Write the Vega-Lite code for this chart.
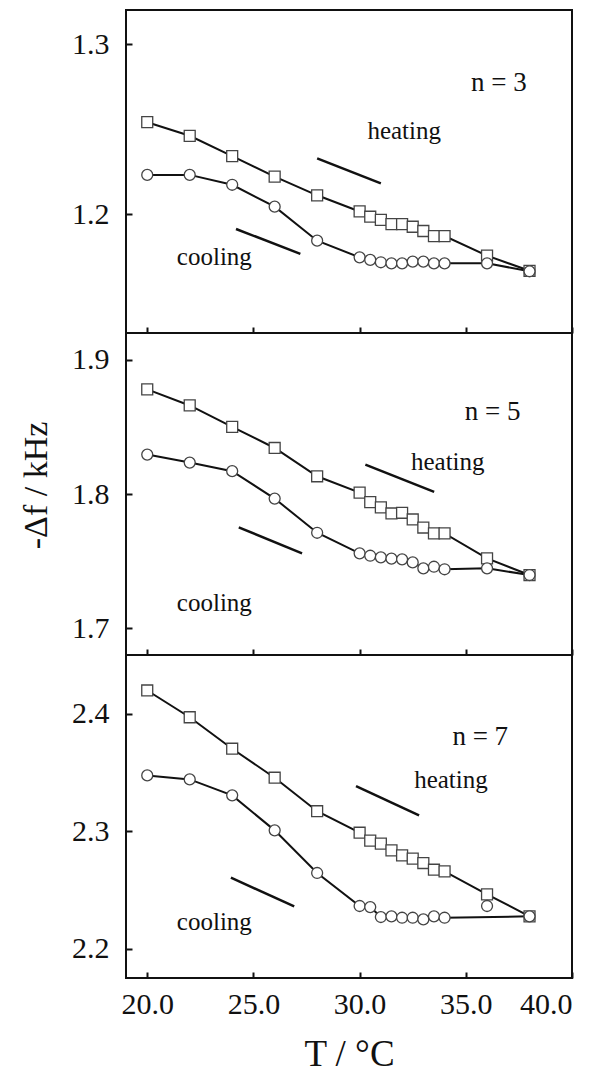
{
  "$schema": "https://vega.github.io/schema/vega-lite/v6.json",
  "background": "white",
  "padding": {"left": 18, "top": 9, "right": 0, "bottom": 0},
  "spacing": 0,
  "bounds": "flush",
  "config": {
    "view": {"stroke": "#111", "strokeWidth": 2},
    "font": "Liberation Serif, Times New Roman, Times, DejaVu Serif, serif",
    "axis": {
      "domain": false, "grid": false, "tickColor": "#111", "tickWidth": 2, "tickSize": -6,
      "labelFont": "Liberation Serif, Times New Roman, Times, DejaVu Serif, serif", "labelFontSize": 30, "labelColor": "#111",
      "titleFont": "Liberation Serif, Times New Roman, Times, DejaVu Serif, serif", "titleFontWeight": "normal", "titleColor": "#111"
    },
    "text": {"font": "Liberation Serif, Times New Roman, Times, DejaVu Serif, serif"},
    "concat": {"spacing": 0}
  },
  "datasets": {
    "obs": [
      {"n": 3, "s": "heating", "T": 20, "f": 1.254}, {"n": 3, "s": "heating", "T": 22, "f": 1.246}, {"n": 3, "s": "heating", "T": 24, "f": 1.234}, {"n": 3, "s": "heating", "T": 26, "f": 1.222}, {"n": 3, "s": "heating", "T": 28, "f": 1.211}, {"n": 3, "s": "heating", "T": 30, "f": 1.2015}, {"n": 3, "s": "heating", "T": 30.5, "f": 1.1984}, {"n": 3, "s": "heating", "T": 31, "f": 1.1965}, {"n": 3, "s": "heating", "T": 31.5, "f": 1.194}, {"n": 3, "s": "heating", "T": 32, "f": 1.194}, {"n": 3, "s": "heating", "T": 32.5, "f": 1.1925}, {"n": 3, "s": "heating", "T": 33, "f": 1.19}, {"n": 3, "s": "heating", "T": 33.5, "f": 1.187}, {"n": 3, "s": "heating", "T": 34, "f": 1.187}, {"n": 3, "s": "heating", "T": 36, "f": 1.1755}, {"n": 3, "s": "heating", "T": 38, "f": 1.1666},
      {"n": 3, "s": "cooling", "T": 20, "f": 1.223}, {"n": 3, "s": "cooling", "T": 22, "f": 1.223}, {"n": 3, "s": "cooling", "T": 24, "f": 1.2172}, {"n": 3, "s": "cooling", "T": 26, "f": 1.2043}, {"n": 3, "s": "cooling", "T": 28, "f": 1.1843}, {"n": 3, "s": "cooling", "T": 30, "f": 1.1745}, {"n": 3, "s": "cooling", "T": 30.5, "f": 1.173}, {"n": 3, "s": "cooling", "T": 31, "f": 1.1716}, {"n": 3, "s": "cooling", "T": 31.5, "f": 1.171}, {"n": 3, "s": "cooling", "T": 32, "f": 1.171}, {"n": 3, "s": "cooling", "T": 32.5, "f": 1.172}, {"n": 3, "s": "cooling", "T": 33, "f": 1.172}, {"n": 3, "s": "cooling", "T": 33.5, "f": 1.171}, {"n": 3, "s": "cooling", "T": 34, "f": 1.171}, {"n": 3, "s": "cooling", "T": 36, "f": 1.171}, {"n": 3, "s": "cooling", "T": 38, "f": 1.1663},
      {"n": 5, "s": "heating", "T": 20, "f": 1.878}, {"n": 5, "s": "heating", "T": 22, "f": 1.866}, {"n": 5, "s": "heating", "T": 24, "f": 1.85}, {"n": 5, "s": "heating", "T": 26, "f": 1.8343}, {"n": 5, "s": "heating", "T": 28, "f": 1.8132}, {"n": 5, "s": "heating", "T": 30, "f": 1.801}, {"n": 5, "s": "heating", "T": 30.5, "f": 1.794}, {"n": 5, "s": "heating", "T": 31, "f": 1.79}, {"n": 5, "s": "heating", "T": 31.5, "f": 1.7855}, {"n": 5, "s": "heating", "T": 32, "f": 1.786}, {"n": 5, "s": "heating", "T": 32.5, "f": 1.781}, {"n": 5, "s": "heating", "T": 33, "f": 1.775}, {"n": 5, "s": "heating", "T": 33.5, "f": 1.7706}, {"n": 5, "s": "heating", "T": 34, "f": 1.7706}, {"n": 5, "s": "heating", "T": 36, "f": 1.752}, {"n": 5, "s": "heating", "T": 38, "f": 1.7396},
      {"n": 5, "s": "cooling", "T": 20, "f": 1.8294}, {"n": 5, "s": "cooling", "T": 22, "f": 1.8234}, {"n": 5, "s": "cooling", "T": 24, "f": 1.817}, {"n": 5, "s": "cooling", "T": 26, "f": 1.7966}, {"n": 5, "s": "cooling", "T": 28, "f": 1.7711}, {"n": 5, "s": "cooling", "T": 30, "f": 1.7558}, {"n": 5, "s": "cooling", "T": 30.5, "f": 1.754}, {"n": 5, "s": "cooling", "T": 31, "f": 1.7528}, {"n": 5, "s": "cooling", "T": 31.5, "f": 1.7518}, {"n": 5, "s": "cooling", "T": 32, "f": 1.7513}, {"n": 5, "s": "cooling", "T": 32.5, "f": 1.749}, {"n": 5, "s": "cooling", "T": 33, "f": 1.7446}, {"n": 5, "s": "cooling", "T": 33.5, "f": 1.7458}, {"n": 5, "s": "cooling", "T": 34, "f": 1.7439}, {"n": 5, "s": "cooling", "T": 36, "f": 1.7446}, {"n": 5, "s": "cooling", "T": 38, "f": 1.7396},
      {"n": 7, "s": "heating", "T": 20, "f": 2.4198}, {"n": 7, "s": "heating", "T": 22, "f": 2.397}, {"n": 7, "s": "heating", "T": 24, "f": 2.3702}, {"n": 7, "s": "heating", "T": 26, "f": 2.3455}, {"n": 7, "s": "heating", "T": 28, "f": 2.317}, {"n": 7, "s": "heating", "T": 30, "f": 2.2987}, {"n": 7, "s": "heating", "T": 30.5, "f": 2.292}, {"n": 7, "s": "heating", "T": 31, "f": 2.2894}, {"n": 7, "s": "heating", "T": 31.5, "f": 2.2837}, {"n": 7, "s": "heating", "T": 32, "f": 2.2794}, {"n": 7, "s": "heating", "T": 32.5, "f": 2.2766}, {"n": 7, "s": "heating", "T": 33, "f": 2.2729}, {"n": 7, "s": "heating", "T": 33.5, "f": 2.2672}, {"n": 7, "s": "heating", "T": 34, "f": 2.2658}, {"n": 7, "s": "heating", "T": 36, "f": 2.2462}, {"n": 7, "s": "heating", "T": 38, "f": 2.2275},
      {"n": 7, "s": "cooling", "T": 20, "f": 2.3475}, {"n": 7, "s": "cooling", "T": 22, "f": 2.3441}, {"n": 7, "s": "cooling", "T": 24, "f": 2.3305}, {"n": 7, "s": "cooling", "T": 26, "f": 2.3007}, {"n": 7, "s": "cooling", "T": 28, "f": 2.2644}, {"n": 7, "s": "cooling", "T": 30, "f": 2.2363}, {"n": 7, "s": "cooling", "T": 30.5, "f": 2.2354}, {"n": 7, "s": "cooling", "T": 31, "f": 2.2269}, {"n": 7, "s": "cooling", "T": 31.5, "f": 2.2275}, {"n": 7, "s": "cooling", "T": 32, "f": 2.2263}, {"n": 7, "s": "cooling", "T": 32.5, "f": 2.2263}, {"n": 7, "s": "cooling", "T": 33, "f": 2.2249}, {"n": 7, "s": "cooling", "T": 33.5, "f": 2.2275}, {"n": 7, "s": "cooling", "T": 34, "f": 2.2263}, {"n": 7, "s": "cooling", "T": 36, "f": 2.2363}, {"n": 7, "s": "cooling", "T": 38, "f": 2.2275}
    ],
    "arrows": [
      {"n": 3, "T": 28.0, "f": 1.2327, "T2": 31.0, "f2": 1.218},
      {"n": 3, "T": 27.21, "f": 1.1765, "T2": 24.18, "f2": 1.1912},
      {"n": 5, "T": 30.27, "f": 1.8219, "T2": 33.51, "f2": 1.8016},
      {"n": 5, "T": 27.29, "f": 1.7558, "T2": 24.31, "f2": 1.7751},
      {"n": 7, "T": 29.83, "f": 2.3384, "T2": 32.8, "f2": 2.3134},
      {"n": 7, "T": 26.92, "f": 2.236, "T2": 23.94, "f2": 2.2604}
    ],
    "labels": [
      {"n": 3, "kind": "n", "text": "n = 3", "T": 36.56, "f": 1.277},
      {"n": 3, "kind": "dir", "text": "heating", "T": 32.1, "f": 1.249},
      {"n": 3, "kind": "dir", "text": "cooling", "T": 23.16, "f": 1.1745},
      {"n": 5, "kind": "n", "text": "n = 5", "T": 36.26, "f": 1.861},
      {"n": 5, "kind": "dir", "text": "heating", "T": 34.15, "f": 1.8239},
      {"n": 5, "kind": "dir", "text": "cooling", "T": 23.16, "f": 1.7186},
      {"n": 7, "kind": "n", "text": "n = 7", "T": 35.68, "f": 2.38},
      {"n": 7, "kind": "dir", "text": "heating", "T": 34.3, "f": 2.3432},
      {"n": 7, "kind": "dir", "text": "cooling", "T": 23.16, "f": 2.2226}
    ]
  },
  "vconcat": [
    {
      "width": 446, "height": 323,
      "encoding": {
        "x": {"field": "T", "type": "quantitative", "scale": {"domain": [19, 40], "nice": false, "zero": false}, "axis": {"values": [20, 25, 30, 35, 40], "labels": false, "title": null}},
        "y": {"field": "f", "type": "quantitative", "scale": {"domain": [1.13, 1.32], "nice": false, "zero": false}, "axis": {"values": [1.2, 1.3], "format": ".1f", "title": null, "labelPadding": 23}}
      },
      "layer": [
        {"data": {"name": "obs"}, "transform": [{"filter": "datum.n == 3"}], "mark": {"type": "line", "color": "#111", "strokeWidth": 2}, "encoding": {"detail": {"field": "s"}}},
        {"data": {"name": "arrows"}, "transform": [{"filter": "datum.n == 3"}], "mark": {"type": "rule", "color": "#111", "strokeWidth": 2.5}, "encoding": {"x2": {"field": "T2"}, "y2": {"field": "f2"}}},
        {"data": {"name": "obs"}, "transform": [{"filter": "datum.n == 3"}], "mark": {"type": "point", "filled": true, "fill": "white", "stroke": "#444", "strokeWidth": 1.3, "size": 120, "opacity": 1}, "encoding": {"shape": {"field": "s", "type": "nominal", "scale": {"domain": ["heating", "cooling"], "range": ["square", "circle"]}, "legend": null}}},
        {"data": {"name": "labels"}, "transform": [{"filter": "datum.n == 3 && datum.kind == 'n'"}], "mark": {"type": "text", "fontSize": 27, "color": "#111"}, "encoding": {"text": {"field": "text"}}},
        {"data": {"name": "labels"}, "transform": [{"filter": "datum.n == 3 && datum.kind == 'dir'"}], "mark": {"type": "text", "fontSize": 25, "color": "#111"}, "encoding": {"text": {"field": "text"}}}
      ]
    },
    {
      "width": 446, "height": 322,
      "encoding": {
        "x": {"field": "T", "type": "quantitative", "scale": {"domain": [19, 40], "nice": false, "zero": false}, "axis": {"values": [20, 25, 30, 35, 40], "labels": false, "title": null}},
        "y": {"field": "f", "type": "quantitative", "scale": {"domain": [1.68, 1.92], "nice": false, "zero": false}, "axis": {"values": [1.7, 1.8, 1.9], "format": ".1f", "title": "-Δf / kHz", "titleFontSize": 34, "titlePadding": 18, "titleY": 152, "labelPadding": 23}}
      },
      "layer": [
        {"data": {"name": "obs"}, "transform": [{"filter": "datum.n == 5"}], "mark": {"type": "line", "color": "#111", "strokeWidth": 2}, "encoding": {"detail": {"field": "s"}}},
        {"data": {"name": "arrows"}, "transform": [{"filter": "datum.n == 5"}], "mark": {"type": "rule", "color": "#111", "strokeWidth": 2.5}, "encoding": {"x2": {"field": "T2"}, "y2": {"field": "f2"}}},
        {"data": {"name": "obs"}, "transform": [{"filter": "datum.n == 5"}], "mark": {"type": "point", "filled": true, "fill": "white", "stroke": "#444", "strokeWidth": 1.3, "size": 120, "opacity": 1}, "encoding": {"shape": {"field": "s", "type": "nominal", "scale": {"domain": ["heating", "cooling"], "range": ["square", "circle"]}, "legend": null}}},
        {"data": {"name": "labels"}, "transform": [{"filter": "datum.n == 5 && datum.kind == 'n'"}], "mark": {"type": "text", "fontSize": 27, "color": "#111"}, "encoding": {"text": {"field": "text"}}},
        {"data": {"name": "labels"}, "transform": [{"filter": "datum.n == 5 && datum.kind == 'dir'"}], "mark": {"type": "text", "fontSize": 25, "color": "#111"}, "encoding": {"text": {"field": "text"}}}
      ]
    },
    {
      "width": 446, "height": 323,
      "encoding": {
        "x": {"field": "T", "type": "quantitative", "scale": {"domain": [19, 40], "nice": false, "zero": false}, "axis": {"values": [20, 25, 30, 35, 40], "format": ".1f", "title": "T / °C", "titleFontSize": 37, "titlePadding": 17, "labelPadding": 17}},
        "y": {"field": "f", "type": "quantitative", "scale": {"domain": [2.175, 2.45], "nice": false, "zero": false}, "axis": {"values": [2.2, 2.3, 2.4], "format": ".1f", "title": null, "labelPadding": 23}}
      },
      "layer": [
        {"data": {"name": "obs"}, "transform": [{"filter": "datum.n == 7 && !(datum.s == 'cooling' && datum.T == 36)"}], "mark": {"type": "line", "color": "#111", "strokeWidth": 2}, "encoding": {"detail": {"field": "s"}}},
        {"data": {"name": "arrows"}, "transform": [{"filter": "datum.n == 7"}], "mark": {"type": "rule", "color": "#111", "strokeWidth": 2.5}, "encoding": {"x2": {"field": "T2"}, "y2": {"field": "f2"}}},
        {"data": {"name": "obs"}, "transform": [{"filter": "datum.n == 7"}], "mark": {"type": "point", "filled": true, "fill": "white", "stroke": "#444", "strokeWidth": 1.3, "size": 120, "opacity": 1}, "encoding": {"shape": {"field": "s", "type": "nominal", "scale": {"domain": ["heating", "cooling"], "range": ["square", "circle"]}, "legend": null}}},
        {"data": {"name": "labels"}, "transform": [{"filter": "datum.n == 7 && datum.kind == 'n'"}], "mark": {"type": "text", "fontSize": 27, "color": "#111"}, "encoding": {"text": {"field": "text"}}},
        {"data": {"name": "labels"}, "transform": [{"filter": "datum.n == 7 && datum.kind == 'dir'"}], "mark": {"type": "text", "fontSize": 25, "color": "#111"}, "encoding": {"text": {"field": "text"}}}
      ]
    }
  ]
}
